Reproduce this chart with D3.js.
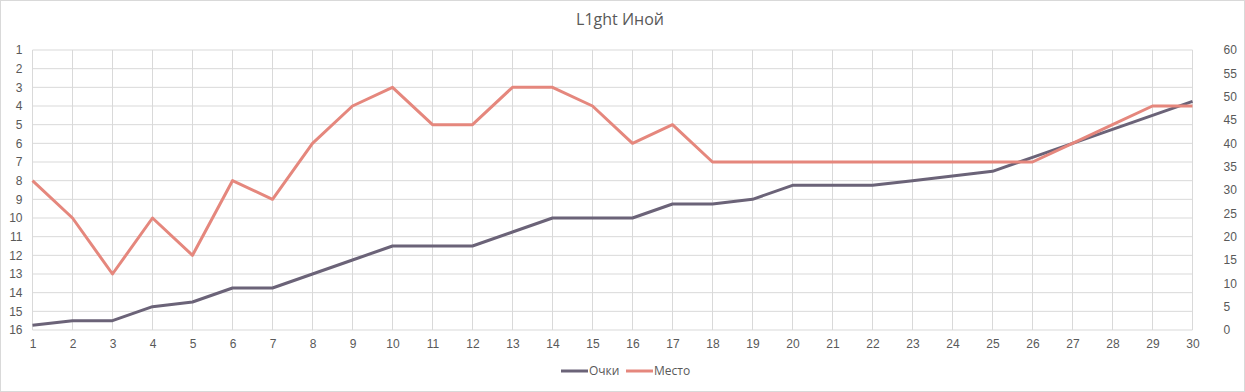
<!DOCTYPE html>
<html><head><meta charset="utf-8">
<script src="https://cdn.jsdelivr.net/npm/d3@7/dist/d3.min.js"></script>
<style>
html,body{margin:0;padding:0;background:#fff;}
svg{display:block;font-family:"Open Sans","Noto Sans",sans-serif;}
</style></head>
<body>
<script>
const title = "L1ght Иной";
const rounds = d3.range(1, 31);
const pointsName = "Очки";
const placeName = "Место";
const points = [1,2,2,5,6,9,9,12,15,18,18,18,21,24,24,24,27,27,28,31,31,31,32,33,34,37,40,43,46,49];
const places = [8,10,13,10,12,8,9,6,4,3,5,5,3,3,4,6,5,7,7,7,7,7,7,7,7,7,6,5,4,4];
const placeTicks = d3.range(1, 17);
const pointTicks = d3.range(0, 61, 5);

const W = 1245, H = 392;
const m = {left: 32.5, right: 1192.5, top: 50, bottom: 330};
const svg = d3.select("body").append("svg").attr("width", W).attr("height", H);
svg.append("rect").attr("x",0.5).attr("y",0.5).attr("width",W-1).attr("height",H-1)
  .attr("fill","#fff").attr("stroke","#d9d9d9");

const x = d3.scalePoint().domain(rounds).range([m.left, m.right]);
const yPlace = d3.scaleLinear().domain([1,16]).range([m.top, m.bottom]);
const yPts = d3.scaleLinear().domain([0,60]).range([m.bottom, m.top]);

const textCol = "#595959", gridCol = "#d9d9d9";

// grid
const g = svg.append("g");
g.selectAll(".hg").data(placeTicks).join("line")
  .attr("x1", m.left).attr("x2", m.right)
  .attr("y1", d=>yPlace(d)).attr("y2", d=>yPlace(d))
  .attr("stroke", gridCol).attr("stroke-width",1);
g.selectAll(".vg").data(rounds).join("line")
  .attr("x1", d=>x(d)).attr("x2", d=>x(d))
  .attr("y1", m.top).attr("y2", m.bottom)
  .attr("stroke", gridCol).attr("stroke-width",1);

// axes
const ax = svg.append("g").attr("transform",`translate(0,${m.bottom})`)
  .call(d3.axisBottom(x).tickSize(0).tickPadding(9));
const axL = svg.append("g").attr("transform",`translate(${m.left},0)`)
  .call(d3.axisLeft(yPlace).tickValues(placeTicks).tickFormat(d3.format("d")).tickSize(0).tickPadding(10));
const axR = svg.append("g").attr("transform",`translate(${m.right},0)`)
  .call(d3.axisRight(yPts).tickValues(pointTicks).tickSize(0).tickPadding(31));
[ax,axL,axR].forEach(a=>{
  a.select(".domain").remove();
  a.selectAll("text").attr("fill",textCol).style("font-size","12px");
});

// lines
const colPts = "#6b6378", colPlace = "#e5877d";
svg.append("path").datum(points)
  .attr("fill","none").attr("stroke",colPts).attr("stroke-width",3).attr("stroke-linejoin","round")
  .attr("d", d3.line().x((d,i)=>x(rounds[i])).y(d=>yPts(d)));
svg.append("path").datum(places)
  .attr("fill","none").attr("stroke",colPlace).attr("stroke-width",3).attr("stroke-linejoin","round")
  .attr("d", d3.line().x((d,i)=>x(rounds[i])).y(d=>yPlace(d)));

// title
svg.append("text").attr("x", 620).attr("y", 25).attr("text-anchor","middle")
  .attr("fill", textCol).style("font-size","16px").text(title);

// legend
const leg = [{name: pointsName, c: colPts, x: 561}, {name: placeName, c: colPlace, x: 626}];
const lg = svg.append("g");
leg.forEach(l=>{
  lg.append("line").attr("x1", l.x).attr("x2", l.x+27).attr("y1",371).attr("y2",371)
    .attr("stroke", l.c).attr("stroke-width",3);
  lg.append("text").attr("x", l.x+28).attr("y", 371).attr("dy","0.35em")
    .attr("fill", textCol).style("font-size","12px").text(l.name);
});
</script>
</body></html>
